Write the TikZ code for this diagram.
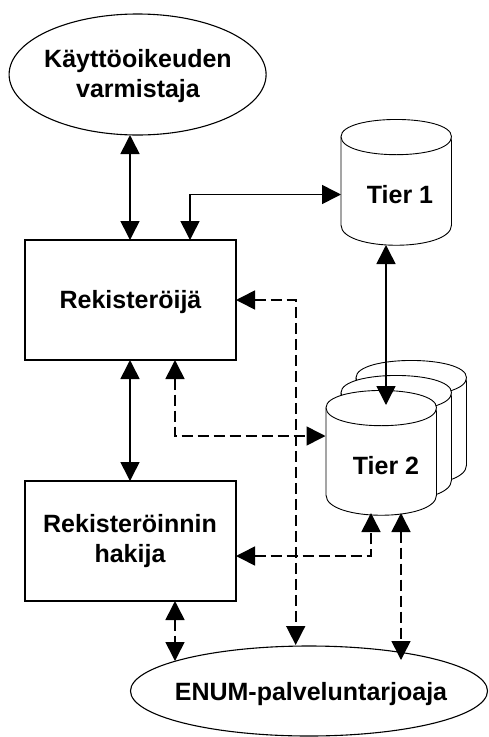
\documentclass[tikz,border=0pt]{standalone}
\usepackage{fontspec}
\setmainfont{Liberation Sans}
\usetikzlibrary{arrows.meta,shapes.geometric}
\tikzset{
  x=1pt,y=-1pt,
  outline/.style={draw=black,line width=1.1pt,fill=white},
  cyl/.style={draw=black,line width=0.9pt,fill=white},
  lbl/.style={font=\fontsize{25}{30}\selectfont\bfseries,align=center,text=black,inner sep=0pt},
  conn/.style={line width=1.6pt,{Triangle[length=19pt,width=19pt]}-{Triangle[length=19pt,width=19pt]}},
  dconn/.style={conn,dash pattern=on 11pt off 5pt},
}
\newcommand{\drum}[4]{% x left, x right, top y (ellipse centre), side bottom y
  \draw[cyl] (#1,#3) .. controls (#1,#3-23) and (#2,#3-23) .. (#2,#3)
    -- (#2,#4) .. controls (#2,#4+27) and (#1,#4+27) .. (#1,#4) -- cycle;
  \draw[cyl] (#1,#3) .. controls (#1,#3+24) and (#2,#3+24) .. (#2,#3);
}
\begin{document}
\begin{tikzpicture}
\useasboundingbox (0,0) rectangle (488,737);
\node[ellipse,outline,minimum width=257pt,minimum height=121pt,inner sep=0pt] (auth) at (137.6,74.5) {};
\node[ellipse,outline,minimum width=357pt,minimum height=90pt,inner sep=0pt] (enum) at (309,691) {};
\node[draw=black,line width=1.1pt,fill=white,minimum width=211pt,minimum height=120pt,inner sep=0pt] (rek) at (130.5,300) {};
\node[draw=black,line width=1.1pt,fill=white,minimum width=211pt,minimum height=120pt,inner sep=0pt] (hak) at (130.5,541) {};
\node[lbl] (tauth) at (138,75.9) {Käyttöoikeuden\\varmistaja};
\node[lbl,anchor=base] (tenum) at (311,700) {ENUM-palveluntarjoaja};
\node[lbl,anchor=base] (trek) at (130.5,308) {Rekisteröijä};
\node[lbl] (thak) at (130,541.4) {Rekisteröinnin\\hakija};
\drum{356}{466.5}{377.7}{465}
\drum{341}{451.5}{392.7}{480}
\drum{326}{436.5}{407.7}{495}
\drum{341}{451.5}{136.7}{225}
\node[lbl,anchor=base] (t1) at (400,203) {Tier 1};
\node[lbl,anchor=base] (t2) at (386,474) {Tier 2};
\coordinate (a1) at (130,135);
\coordinate (a2) at (130,240);
\coordinate (b1) at (190,240);
\coordinate (b2) at (190,194.5);
\coordinate (b3) at (341,194.5);
\coordinate (c1) at (386,245);
\coordinate (c2) at (386,405);
\coordinate (d1) at (130,360);
\coordinate (d2) at (130,481);
\coordinate (e1) at (236,300);
\coordinate (e2) at (295.7,300);
\coordinate (e3) at (295.7,645);
\coordinate (f1) at (175,360);
\coordinate (f2) at (175,436);
\coordinate (f3) at (325.5,436);
\coordinate (g1) at (236,556);
\coordinate (g2) at (371,556);
\coordinate (g3) at (371,513);
\coordinate (h1) at (401,513);
\coordinate (h2) at (401,660);
\coordinate (i1) at (175,601);
\coordinate (i2) at (175,661);
\draw[conn] (a1) -- (a2);
\draw[conn] (b1) -- (b2) -- (b3);
\draw[conn] (c1) -- (c2);
\draw[conn] (d1) -- (d2);
\draw[dconn] (e1) -- (e2) -- (e3);
\draw[dconn] (f1) -- (f2) -- (f3);
\draw[dconn] (g1) -- (g2) -- (g3);
\draw[dconn] (h1) -- (h2);
\draw[dconn] (i1) -- (i2);
\end{tikzpicture}
\end{document}
